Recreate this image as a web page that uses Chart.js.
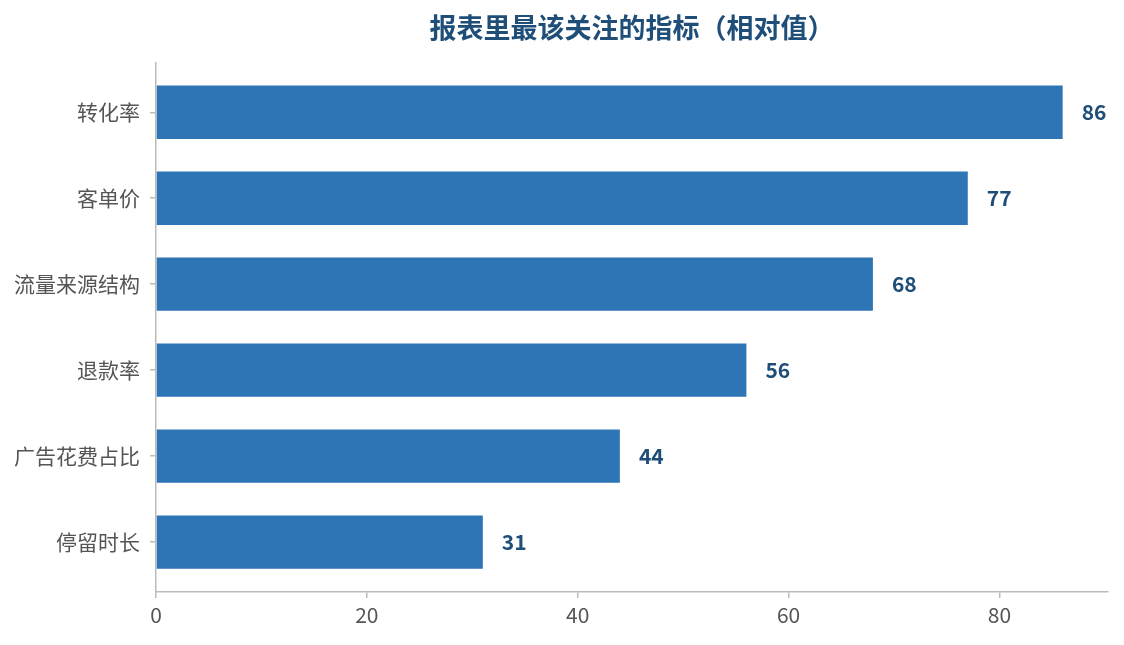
<!DOCTYPE html>
<html>
<head>
<meta charset="utf-8">
<script src="https://cdn.jsdelivr.net/npm/chart.js@4.4.1/dist/chart.umd.min.js"></script>
<style>
  html, body { margin: 0; padding: 0; background: #fff; }
  #wrap { width: 1124px; height: 645px; }
</style>
</head>
<body>
<div id="wrap"><canvas id="myChart"></canvas></div>
<script>
const ctx = document.getElementById('myChart').getContext('2d');
const FONT = '"Noto Sans CJK SC", "Noto Sans", sans-serif';

// data, top bar first
let categories = ['转化率', '客单价', '流量来源结构', '退款率', '广告花费占比', '停留时长'];
let values = [86, 77, 68, 56, 44, 31];
let xTicks = [0, 20, 40, 60, 80];

// draws the number at the end of every bar
const valueLabels = {
    id: 'valueLabels',
    afterDatasetsDraw(chart) {
        const c = chart.ctx;
        const meta = chart.getDatasetMeta(0);
        c.save();
        c.font = 'bold 21px ' + FONT;
        c.fillStyle = '#1f4e79';
        c.textAlign = 'left';
        c.textBaseline = 'middle';
        meta.data.forEach((bar, i) => {
            c.fillText(String(values[i]), bar.x + 19, bar.y);
        });
        c.restore();
    }
};

const myChart = new Chart(ctx, {
    type: 'bar',
    data: {
        datasets: [{
            label: '相对值',
            data: values.map((v, i) => ({ x: v, y: i })),
            backgroundColor: '#2e75b5',
            categoryPercentage: 1,
            barPercentage: 0.62,
        }]
    },
    options: {
        indexAxis: 'y',
        responsive: true,
        maintainAspectRatio: false,
        animation: false,
        layout: { padding: { left: 10, right: 16, top: 0, bottom: 0 } },
        plugins: {
            legend: { display: false },
            tooltip: { enabled: false },
            title: {
                display: true,
                text: '报表里最该关注的指标（相对值）',
                color: '#1f4e79',
                fullSize: false,
                font: { family: FONT, size: 27, weight: 'bold' },
                padding: { top: 12, bottom: 18 }
            }
        },
        scales: {
            x: {
                type: 'linear',
                min: 0,
                max: 90.3,
                afterBuildTicks(scale) {
                    scale.ticks = xTicks.map(v => ({ value: v }));
                },
                afterFit(scale) { scale.height = 53; },
                grid: { display: true, drawOnChartArea: false, drawTicks: true, tickLength: 6, color: '#bbbbbb', lineWidth: 1.5 },
                border: { display: true, color: '#bbbbbb', width: 1.5 },
                ticks: { color: '#555555', padding: 4, font: { family: FONT, size: 21 } }
            },
            y: {
                type: 'linear',
                reverse: true,
                offset: false,
                min: -0.58,
                max: 5.58,
                afterBuildTicks(scale) {
                    scale.ticks = categories.map((c, i) => ({ value: i }));
                },
                afterFit(scale) { scale.width = 146; },
                grid: { display: true, offset: false, drawOnChartArea: false, drawTicks: true, tickLength: 6, color: '#bbbbbb', lineWidth: 1.5 },
                border: { display: true, color: '#bbbbbb', width: 1.5 },
                ticks: {
                    color: '#555555',
                    padding: 10,
                    font: { family: FONT, size: 21 },
                    callback: (v) => categories[v]
                }
            }
        }
    },
    plugins: [valueLabels]
});
</script>
</body>
</html>
